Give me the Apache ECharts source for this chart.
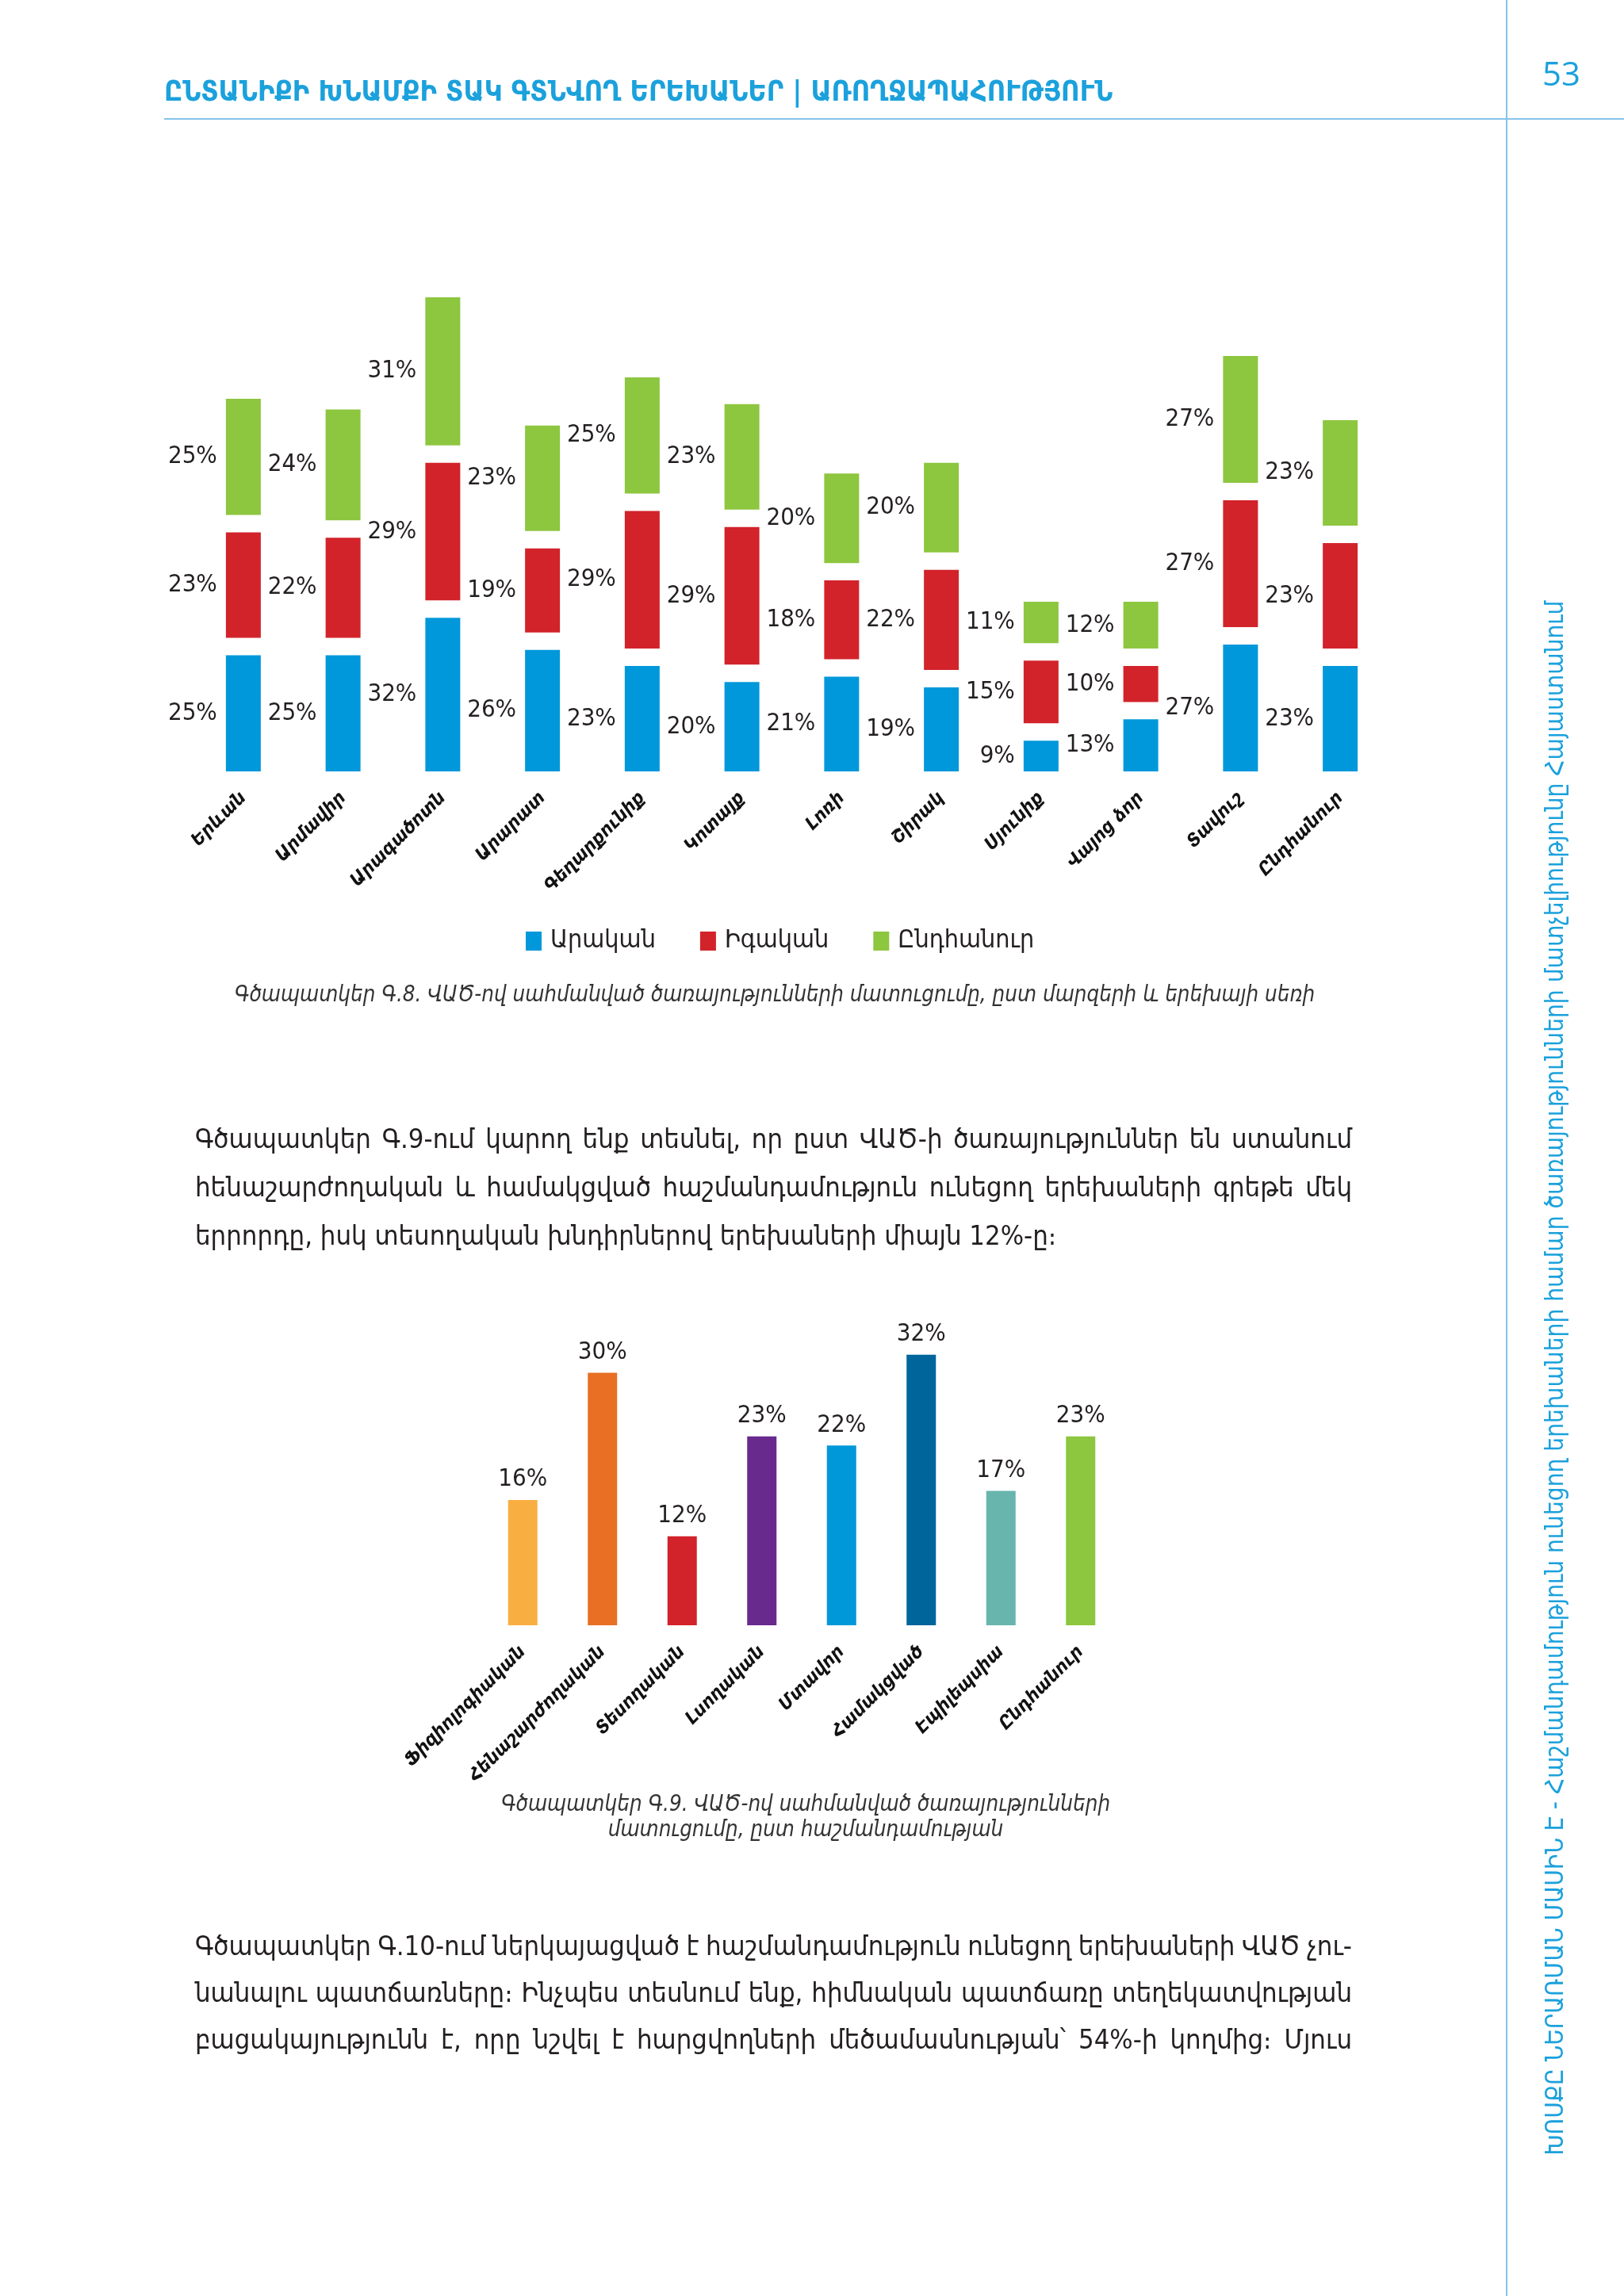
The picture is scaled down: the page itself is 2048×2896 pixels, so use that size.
<!DOCTYPE html>
<html><head><meta charset="utf-8">
<script src="https://cdn.jsdelivr.net/npm/echarts@6/dist/echarts.min.js"></script>
<style>html,body{margin:0;padding:0;background:#fff}#c{width:2048px;height:2896px}</style>
</head><body><div id="c"></div>
<script>
// ---------- DATA ----------
const regions = ['Երևան','Արմավիր','Արագածոտն','Արարատ','Գեղարքունիք','Կոտայք','Լոռի','Շիրակ','Սյունիք','Վայոց ձոր','Տավուշ','Ընդհանուր'];
const maleValues   = [25, 25, 32, 26, 23, 20, 21, 19,  9, 13, 27, 23];
const femaleValues = [23, 22, 29, 19, 29, 29, 18, 22, 15, 10, 27, 23];
const totalValues  = [25, 24, 31, 23, 25, 23, 20, 20, 11, 12, 27, 23];
const genderSeriesNames = ['Արական','Իգական','Ընդհանուր'];

const disabilityTypes  = ['Ֆիզիոլոգիական','Հենաշարժողական','Տեսողական','Լսողական','Մտավոր','Համակցված','Էպիլեպսիա','Ընդհանուր'];
const disabilityValues = [16, 30, 12, 23, 22, 32, 17, 23];

const headerText = 'ԸՆՏԱՆԻՔԻ ԽՆԱՄՔԻ ՏԱԿ ԳՏՆՎՈՂ ԵՐԵԽԱՆԵՐ | ԱՌՈՂՋԱՊԱՀՈՒԹՅՈՒՆ';
const pageNumber = '53';
const sideText = 'ԽՈՍՔԸ ՆԵՐԱՌՄԱՆ ՄԱՍԻՆ Է - Հաշմանդամություն ունեցող երեխաների համար ծառայությունների մատչելիությունը Հայաստանում';
const caption1 = 'Գծապատկեր Գ.8. ՎԱԾ-ով սահմանված ծառայությունների մատուցումը, ըստ մարզերի և երեխայի սեռի';
const caption2Lines = ['Գծապատկեր Գ.9. ՎԱԾ-ով սահմանված ծառայությունների', 'մատուցումը, ըստ հաշմանդամության'];
const paragraph1 = [
  'Գծապատկեր Գ.9-ում կարող ենք տեսնել, որ ըստ ՎԱԾ-ի ծառայություններ են ստանում',
  'հենաշարժողական և համակցված հաշմանդամություն ունեցող երեխաների գրեթե մեկ',
  'երրորդը, իսկ տեսողական խնդիրներով երեխաների միայն 12%-ը։'
];
const paragraph2 = [
  'Գծապատկեր Գ.10-ում ներկայացված է հաշմանդամություն ունեցող երեխաների ՎԱԾ չու-',
  'նանալու պատճառները։ Ինչպես տեսնում ենք, հիմնական պատճառը տեղեկատվության',
  'բացակայությունն է, որը նշվել է հարցվողների մեծամասնության՝ 54%-ի կողմից։ Մյուս'
];

// ---------- STYLES ----------
const FAM = "'DejaVu Sans Condensed','DejaVu Sans',sans-serif";
const NUMFAM = "'DejaVu Sans Condensed','DejaVu Sans',sans-serif";
const BLUE_TXT = '#1BA1DC';
const LINE_BLUE = '#86C3EA';
const genderColors = ['#0098DA', '#D2232A', '#8DC63F'];
const disabilityColors = ['#F9AE42', '#E86F24', '#D2232A', '#682A8D', '#0098D8', '#00659B', '#67B5AD', '#8DC63F'];
const GAP_UNITS = 3.26;   // white gap cut from the top of each stacked segment (in % units)
const TEXT_COL = '#231F20';

// ---------- text measuring helpers ----------
const mctx = document.createElement('canvas').getContext('2d');
function tw(t, size, weight, style, fam) {
  mctx.font = `${style||'normal'} ${weight||'normal'} ${size}px ${fam}`;
  return mctx.measureText(t).width;
}
function fit(t, target, weight, style, fam) {
  return 100 * target / tw(t, 100, weight, style, fam);
}
function txt(x, y, text, o) {
  return Object.assign({
    type: 'text', x: x, y: y, silent: true,
    style: {
      text: text, fill: o.fill || TEXT_COL, fontSize: o.size, fontFamily: o.fam || FAM,
      fontWeight: o.weight || 'normal', fontStyle: o.style || 'normal',
      align: o.align || 'left', verticalAlign: 'middle',
      textAlign: o.align || 'left', textVerticalAlign: 'middle'
    }
  }, o.rotation ? { rotation: o.rotation } : {});
}
function justified(lines, left, width, ys, size, lastJustified) {
  const els = [];
  lines.forEach((line, li) => {
    const words = line.split(' ');
    const widths = words.map(w => tw(w, size, 'normal', 'normal', FAM));
    const sum = widths.reduce((a, b) => a + b, 0);
    const isLast = li === lines.length - 1;
    let gap = tw(' ', size, 'normal', 'normal', FAM);
    if (!isLast || lastJustified) gap = (width - sum) / (words.length - 1);
    let x = left;
    words.forEach((w, i) => {
      els.push(txt(x, ys[li], w, { size: size }));
      x += widths[i] + gap;
    });
  });
  return els;
}

// ---------- graphics ----------
const headerSize = fit(headerText, 1197, 'bold', 'normal', FAM);
const sideSize = Math.min(34, fit(sideText, 1962, 'normal', 'normal', FAM));
const capSize = fit(caption1, 1363, 'normal', 'italic', FAM);
const paraSize = fit(paragraph1[2], 1087, 'normal', 'normal', FAM);

const graphics = [
  { type: 'line', silent: true, shape: { x1: 1900, y1: 0, x2: 1900, y2: 2896 }, style: { stroke: LINE_BLUE, lineWidth: 2 } },
  { type: 'line', silent: true, shape: { x1: 207, y1: 150, x2: 2048, y2: 150 }, style: { stroke: LINE_BLUE, lineWidth: 2 } },
  txt(207, 118, headerText, { size: headerSize, weight: 'bold', fill: BLUE_TXT }),
  txt(1969, 96, pageNumber, { size: 42, fill: BLUE_TXT, align: 'center', fam: "'Open Sans','DejaVu Sans',sans-serif" }),
  txt(1963, 1738, sideText, { size: sideSize, fill: BLUE_TXT, align: 'center', rotation: Math.PI / 2 }),
  txt(977, 1256, caption1, { size: capSize, style: 'italic', fill: '#333', align: 'center' }),
  txt(1016, 2277, caption2Lines[0], { size: capSize, style: 'italic', fill: '#333', align: 'center' }),
  txt(1016, 2309, caption2Lines[1], { size: capSize, style: 'italic', fill: '#333', align: 'center' })
].concat(
  justified(paragraph1, 246, 1459, [1439, 1500, 1561], paraSize, false),
  justified(paragraph2, 246, 1459, [2457, 2516, 2575], paraSize, true)
);

// ---------- series ----------
const genderData = [maleValues, femaleValues, totalValues];
function segLabel(vals) {
  return { show: true, position: 'left', distance: 11, formatter: p => vals[p.dataIndex] + '%',
           fontSize: 31, fontFamily: NUMFAM, color: TEXT_COL };
}
function gapSeries(id) {
  return {
    name: id, type: 'bar', stack: 'r', xAxisIndex: 0, yAxisIndex: 0, barWidth: 44, silent: true,
    data: regions.map(() => GAP_UNITS), itemStyle: { color: 'rgba(0,0,0,0)' }, label: { show: false }
  };
}
const series = [];
genderData.forEach((vals, i) => {
  series.push({
    name: genderSeriesNames[i], type: 'bar', stack: 'r', xAxisIndex: 0, yAxisIndex: 0, barWidth: 44,
    data: vals.map(v => v - GAP_UNITS), itemStyle: { color: genderColors[i] }, label: segLabel(vals)
  });
  series.push(gapSeries('gap' + i));
});
series.push({
  name: 'disability', type: 'bar', xAxisIndex: 1, yAxisIndex: 1, barWidth: 37,
  data: disabilityValues.map((v, i) => ({ value: v, itemStyle: { color: disabilityColors[i] } })),
  label: { show: true, position: 'top', distance: 10, formatter: '{c}%', fontSize: 31, fontFamily: NUMFAM, color: TEXT_COL }
});

const axisLbl = { interval: 0, rotate: 45, margin: 30, fontSize: 23, fontWeight: 'bold', fontStyle: 'italic', fontFamily: FAM, color: '#111' };

const option = {
  animation: false,
  backgroundColor: '#ffffff',
  legend: {
    data: genderSeriesNames, left: 658, top: 1166, icon: 'rect', itemWidth: 20, itemHeight: 24, itemGap: 56,
    selectedMode: false, textStyle: { fontSize: 32, fontFamily: FAM, color: TEXT_COL, padding: [0, 0, 0, 6] }
  },
  grid: [
    { left: 244, right: 295, top: 299, bottom: 1923, outerBoundsMode: 'none', containLabel: false },
    { left: 609, right: 635, top: 1617, bottom: 846, outerBoundsMode: 'none', containLabel: false }
  ],
  xAxis: [
    { type: 'category', gridIndex: 0, data: regions, axisLine: { show: false }, axisTick: { show: false }, axisLabel: axisLbl },
    { type: 'category', gridIndex: 1, data: disabilityTypes, axisLine: { show: false }, axisTick: { show: false }, axisLabel: Object.assign({}, axisLbl, { margin: 30 }) }
  ],
  yAxis: [
    { type: 'value', gridIndex: 0, min: 0, max: 100, show: false },
    { type: 'value', gridIndex: 1, min: 2.2, max: 40, show: false }
  ],
  graphic: graphics,
  series: series
};

const chart = echarts.init(document.getElementById('c'), null, { renderer: 'canvas' });
chart.setOption(option);
</script>
</body></html>
